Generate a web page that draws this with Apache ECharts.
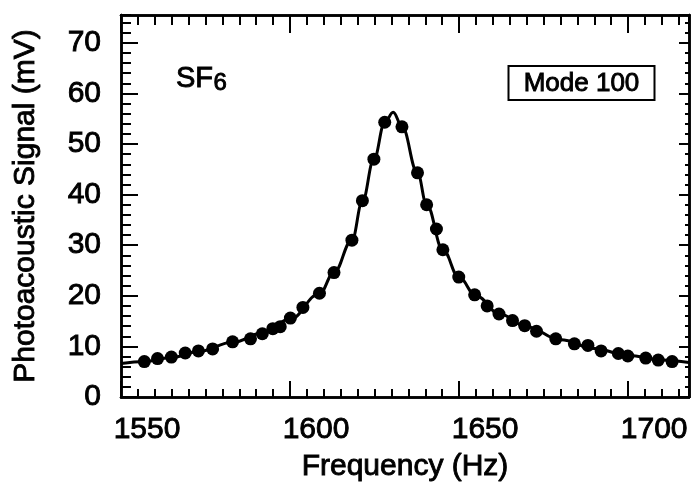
<!DOCTYPE html>
<html>
<head>
<meta charset="utf-8">
<style>html,body{margin:0;padding:0;background:#fff;}#chart{width:691px;height:486px;}</style>
<script src="https://cdn.jsdelivr.net/npm/echarts@6/dist/echarts.min.js"></script>
</head>
<body>
<div id="chart"></div>
<script>
// Measured data points (Frequency in Hz, Photoacoustic signal in mV)
var freq = [1556.9, 1560.8, 1564.9, 1569.0, 1572.9, 1577.1, 1583.0, 1588.3, 1591.8, 1594.9,
            1597.1, 1600.1, 1603.8, 1608.7, 1613.0, 1618.3, 1621.4, 1624.8, 1628.0, 1633.1,
            1637.7, 1640.4, 1643.3, 1645.2, 1649.9, 1654.6, 1658.3, 1661.8, 1665.8, 1669.4,
            1672.9, 1678.6, 1684.1, 1688.1, 1692.0, 1697.1, 1699.9, 1705.2, 1708.9, 1713.0];
var signal = [7.0, 7.6, 7.9, 8.7, 9.1, 9.5, 10.9, 11.5, 12.5, 13.5,
              13.9, 15.6, 17.7, 20.5, 24.6, 31.0, 38.8, 47.0, 54.3, 53.4,
              44.3, 38.0, 33.2, 29.1, 23.7, 20.2, 18.0, 16.4, 15.1, 14.1,
              13.0, 11.5, 10.5, 10.2, 9.1, 8.6, 8.1, 7.7, 7.3, 7.0];
// Fitted curve
var fitFreq = [1550, 1557, 1565, 1573, 1583, 1592, 1600, 1608.7, 1613, 1618.3, 1621.4, 1624.8, 1628,
               1630.5, 1633.1, 1637.7, 1640.4, 1645.2, 1650, 1655, 1662, 1670, 1680, 1690, 1700, 1710, 1718];
var fitSignal = [6.6, 7.0, 7.8, 9.0, 10.8, 12.7, 15.4, 20.4, 24.6, 31.0, 38.7, 47.0, 54.2,
                 56.3, 53.5, 44.3, 38.0, 29.1, 23.6, 20.0, 16.4, 13.9, 11.3, 9.6, 8.2, 7.3, 6.8];
// Axis settings
var xMin = 1550, xMax = 1718, xMajor = 50, xMinor = 5;
var yMin = 0, yMax = 75.5, yMajor = 10, yMinor = 2;
var xTitle = 'Frequency (Hz)';
var yTitle = 'Photoacoustic Signal (mV)';
var speciesLabel = 'SF';
var speciesSub = '6';
var modeLabel = 'Mode 100';

var FONT = 'Liberation Sans, Arial, Helvetica, sans-serif';
var BLACK = '#000';
var EMB = 0.9; // slight emboldening stroke

function pairs(xs, ys) { return xs.map(function (x, i) { return [x, ys[i]]; }); }
function txt(size, extra) {
  return Object.assign({ color: BLACK, fontSize: size, fontFamily: FONT, fontWeight: 'normal',
    textBorderColor: BLACK, textBorderWidth: EMB }, extra || {});
}

var gridBox = { left: 121, right: 2, top: 15, bottom: 89, containLabel: false, outerBoundsMode: 'none' };

function xAx(opts) {
  return Object.assign({
    type: 'value', min: xMin, max: xMax, scale: true,
    axisLine: { show: true, onZero: false, lineStyle: { color: BLACK, width: 2.5 } },
    axisTick: { show: true, inside: true, length: 8, lineStyle: { color: BLACK, width: 2 } },
    axisLabel: { show: false },
    splitLine: { show: false }
  }, opts);
}
function yAx(opts) {
  return Object.assign({
    type: 'value', min: yMin, max: yMax,
    axisLine: { show: true, onZero: false, lineStyle: { color: BLACK, width: 2.5 } },
    axisTick: { show: true, inside: true, length: 8, lineStyle: { color: BLACK, width: 2 } },
    axisLabel: { show: false },
    splitLine: { show: false }
  }, opts);
}

var chart = echarts.init(document.getElementById('chart'), null, { renderer: 'canvas' });
chart.setOption({
  animation: false,
  backgroundColor: '#fff',
  grid: [Object.assign({}, gridBox), Object.assign({}, gridBox)],
  xAxis: [
    xAx({ gridIndex: 0, position: 'bottom', interval: xMajor,
      axisTick: { show: true, inside: true, length: 16, lineStyle: { color: BLACK, width: 2 } },
      axisLabel: txt(30, { show: true, margin: 18, padding: [0, 0, 0, 52], showMaxLabel: false,
                   formatter: function (v) { return String(v); } }) }),
    xAx({ gridIndex: 0, position: 'top', interval: xMajor,
      axisTick: { show: true, inside: true, length: 18, lineStyle: { color: BLACK, width: 2 } } }),
    xAx({ gridIndex: 1, position: 'bottom', interval: xMinor,
      axisTick: { show: true, inside: true, length: 8, lineStyle: { color: BLACK, width: 2 } } }),
    xAx({ gridIndex: 1, position: 'top', interval: xMinor,
      axisTick: { show: true, inside: true, length: 10, lineStyle: { color: BLACK, width: 2 } } })
  ],
  yAxis: [
    yAx({ gridIndex: 0, position: 'left', interval: yMajor,
      axisTick: { show: true, inside: true, length: 17, lineStyle: { color: BLACK, width: 2 } },
      axisLabel: txt(30, { show: true, margin: 20, showMaxLabel: false }),
      name: yTitle, nameLocation: 'middle', nameGap: 80, nameMoveOverlap: false,
      nameTextStyle: txt(30) }),
    yAx({ gridIndex: 0, position: 'right', interval: yMajor,
      axisTick: { show: true, inside: true, length: 10, lineStyle: { color: BLACK, width: 2 } } }),
    yAx({ gridIndex: 1, position: 'left', interval: yMinor,
      axisTick: { show: true, inside: true, length: 10, lineStyle: { color: BLACK, width: 2 } } }),
    yAx({ gridIndex: 1, position: 'right', interval: yMinor,
      axisTick: { show: true, inside: true, length: 4, lineStyle: { color: BLACK, width: 2 } } })
  ],
  series: [
    {
      type: 'line', xAxisIndex: 0, yAxisIndex: 0,
      data: pairs(fitFreq, fitSignal),
      showSymbol: false, symbol: 'none',
      smooth: 0.4, smoothMonotone: 'x',
      lineStyle: { color: BLACK, width: 3 },
      z: 2
    },
    {
      type: 'scatter', xAxisIndex: 0, yAxisIndex: 0,
      data: pairs(freq, signal),
      symbol: 'circle', symbolSize: 13,
      itemStyle: { color: BLACK, opacity: 1 },
      z: 3
    }
  ],
  graphic: [
    {
      type: 'text', z: 10, x: 405, y: 467,
      style: { text: xTitle, fontSize: 30, fontFamily: FONT, fill: BLACK, stroke: BLACK, lineWidth: EMB,
               align: 'center', verticalAlign: 'middle' }
    },
    {
      type: 'text', z: 10, x: 176, y: 93,
      style: { text: speciesLabel, fontSize: 29, fontFamily: FONT, fill: BLACK, stroke: BLACK, lineWidth: EMB,
               align: 'left', verticalAlign: 'bottom' }
    },
    {
      type: 'text', z: 10, x: 213.5, y: 95,
      style: { text: speciesSub, fontSize: 24, fontFamily: FONT, fill: BLACK, stroke: BLACK, lineWidth: EMB,
               align: 'left', verticalAlign: 'bottom' }
    },
    {
      type: 'rect', z: 10,
      shape: { x: 508.5, y: 66, width: 146, height: 34 },
      style: { fill: '#fff', stroke: BLACK, lineWidth: 2 }
    },
    {
      type: 'text', z: 11, x: 581.5, y: 84,
      style: { text: modeLabel, fontSize: 26, fontFamily: FONT, fill: BLACK, stroke: BLACK, lineWidth: EMB,
               align: 'center', verticalAlign: 'middle' }
    }
  ]
});
</script>
</body>
</html>
